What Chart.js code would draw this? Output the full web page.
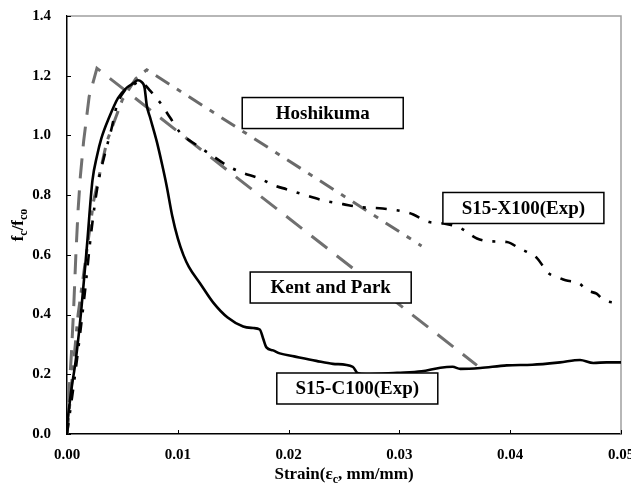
<!DOCTYPE html>
<html><head><meta charset="utf-8">
<script src="https://cdn.jsdelivr.net/npm/chart.js@4/dist/chart.umd.min.js"></script>
<style>html,body{margin:0;padding:0;background:#fff;}</style>
</head><body>
<canvas id="c" width="631" height="488"></canvas>
<script>
// ---- data ----
const c100Strain = [0, 0.0004, 0.0008, 0.0013, 0.0018, 0.0023, 0.0027, 0.0031, 0.0038, 0.0046, 0.0054, 0.0060, 0.0064, 0.0067, 0.0070, 0.0072, 0.0075, 0.0081, 0.0086, 0.0090, 0.0095, 0.0100, 0.0105, 0.0110, 0.0120, 0.0132, 0.0145, 0.0159, 0.0168, 0.0174, 0.0177, 0.0180, 0.0186, 0.0192, 0.0205, 0.0225, 0.0240, 0.0258, 0.0262, 0.0270, 0.0298, 0.0320, 0.0337, 0.0348, 0.0355, 0.0373, 0.0397, 0.0420, 0.0445, 0.0463, 0.0475, 0.0487, 0.0500];
const c100Stress = [0.03, 0.15, 0.25, 0.42, 0.63, 0.85, 0.93, 0.99, 1.06, 1.125, 1.16, 1.175, 1.185, 1.18, 1.16, 1.10, 1.06, 0.98, 0.90, 0.83, 0.73, 0.655, 0.60, 0.56, 0.505, 0.44, 0.39, 0.36, 0.355, 0.35, 0.32, 0.29, 0.28, 0.27, 0.26, 0.245, 0.235, 0.225, 0.205, 0.20, 0.205, 0.21, 0.222, 0.225, 0.218, 0.221, 0.23, 0.232, 0.24, 0.248, 0.238, 0.24, 0.24];

const x100Strain = [0, 0.0008, 0.0016, 0.0022, 0.0028, 0.0031, 0.0035, 0.0040, 0.0045, 0.0052, 0.0060, 0.0065, 0.0070, 0.0075, 0.0084, 0.0093, 0.0102, 0.0118, 0.0132, 0.0144, 0.0157, 0.0173, 0.0189, 0.0198, 0.0215, 0.0234, 0.0249, 0.0264, 0.0285, 0.0309, 0.0327, 0.0340, 0.0355, 0.0370, 0.0384, 0.0397, 0.0409, 0.0415, 0.0424, 0.0430, 0.0434, 0.0443, 0.0450, 0.0462, 0.0470, 0.0478, 0.0484, 0.0497, 0.0500];
const x100Stress = [0, 0.22, 0.47, 0.68, 0.84, 0.89, 0.95, 1.02, 1.10, 1.15, 1.17, 1.18, 1.17, 1.15, 1.11, 1.06, 1.01, 0.965, 0.93, 0.90, 0.877, 0.857, 0.83, 0.82, 0.80, 0.78, 0.77, 0.76, 0.755, 0.74, 0.71, 0.705, 0.69, 0.655, 0.645, 0.643, 0.62, 0.61, 0.59, 0.56, 0.54, 0.525, 0.515, 0.505, 0.48, 0.47, 0.45, 0.44, 0.44];

const hoshikumaStrain = [0, 0.0010, 0.0024, 0.0036, 0.0050, 0.0062, 0.0072, 0.0320];
const hoshikumaStress = [0, 0.40, 0.78, 0.98, 1.12, 1.19, 1.22, 0.63];

const kentParkStrain = [0, 0.0002, 0.0004, 0.0006, 0.0008, 0.0010, 0.0012, 0.0015, 0.0020, 0.0027, 0.0370];
const kentParkStress = [0, 0.15, 0.27, 0.42, 0.60, 0.75, 0.86, 0.98, 1.13, 1.225, 0.23];

const xTickValues = [0, 0.01, 0.02, 0.03, 0.04, 0.05];
const yTickValues = [0, 0.2, 0.4, 0.6, 0.8, 1.0, 1.2, 1.4];

const boxTexts = ['Hoshikuma', 'S15-X100(Exp)', 'Kent and Park', 'S15-C100(Exp)'];
const boxStrain = [0.02308, 0.04119, 0.0238, 0.0262];
const boxStress = [1.075, 0.757, 0.4906, 0.1524];

// ---- build ----
const toPts = (xs, ys) => xs.map((x, i) => ({x: x, y: ys[i]}));
const SERIF = '"Liberation Serif", "Times New Roman", serif';

function drawRich(ctx, segs, size, cx, cy) {
  let w = 0;
  segs.forEach(s => {
    ctx.font = 'bold ' + (s[1] ? Math.round(size * 0.72) : size) + 'px ' + SERIF;
    w += ctx.measureText(s[0]).width;
  });
  let x = cx - w / 2;
  segs.forEach(s => {
    ctx.font = 'bold ' + (s[1] ? Math.round(size * 0.72) : size) + 'px ' + SERIF;
    ctx.fillText(s[0], x, cy + (s[1] ? size * 0.3 : 0));
    x += ctx.measureText(s[0]).width;
  });
}

const decor = {
  id: 'decor',
  beforeDatasetsDraw(chart) {
    const ctx = chart.ctx, a = chart.chartArea;
    ctx.save();
    ctx.strokeStyle = '#a0a0a0';
    ctx.lineWidth = 1.5;
    ctx.beginPath();
    ctx.moveTo(a.left, a.top); ctx.lineTo(a.right, a.top); ctx.lineTo(a.right, a.bottom);
    ctx.stroke();
    ctx.strokeStyle = '#000';
    ctx.lineWidth = 1;
    const xs = chart.scales.x, ys = chart.scales.y;
    xTickValues.forEach(v => {
      const p = Math.round(xs.getPixelForValue(v)) + 0.5;
      ctx.beginPath(); ctx.moveTo(p, a.bottom); ctx.lineTo(p, a.bottom - 4); ctx.stroke();
    });
    yTickValues.forEach(v => {
      const p = Math.round(ys.getPixelForValue(v)) + 0.5;
      ctx.beginPath(); ctx.moveTo(a.left, p); ctx.lineTo(a.left + 4, p); ctx.stroke();
    });
    ctx.restore();
  },
  afterDraw(chart) {
    const ctx = chart.ctx, a = chart.chartArea;
    const xs = chart.scales.x, ys = chart.scales.y;
    ctx.save();
    ctx.textAlign = 'center';
    ctx.textBaseline = 'middle';
    boxTexts.forEach((t, i) => {
      const cx = xs.getPixelForValue(boxStrain[i]);
      const cy = ys.getPixelForValue(boxStress[i]);
      const w = 161, h = 31;
      ctx.fillStyle = '#fff';
      ctx.fillRect(cx - w / 2, cy - h / 2, w, h);
      ctx.strokeStyle = '#000';
      ctx.lineWidth = 1.5;
      ctx.strokeRect(cx - w / 2, cy - h / 2, w, h);
      ctx.fillStyle = '#000';
      ctx.font = 'bold 19px ' + SERIF;
      ctx.fillText(t, cx, cy + 1);
    });
    ctx.textAlign = 'left';
    ctx.textBaseline = 'middle';
    ctx.fillStyle = '#000';
    drawRich(ctx, [['Strain(\u03b5', false], ['c', true], [', mm/mm)', false]], 17, (a.left + a.right) / 2, 475);
    ctx.translate(19, (a.top + a.bottom) / 2);
    ctx.rotate(-Math.PI / 2);
    drawRich(ctx, [['f', false], ['c', true], ['/f', false], ['co', true]], 17, 0, 0);
    ctx.restore();
  }
};

const tickFont = {family: SERIF, size: 15, weight: 'bold'};

new Chart(document.getElementById('c'), {
  type: 'scatter',
  data: {
    datasets: [
      {label: 'S15-C100(Exp)', data: toPts(c100Strain, c100Stress), showLine: true, borderColor: '#000', borderWidth: 2.6, pointRadius: 0, cubicInterpolationMode: 'monotone'},
      {label: 'S15-X100(Exp)', data: toPts(x100Strain, x100Stress), showLine: true, borderColor: '#000', borderWidth: 2.6, borderDash: [11, 10, 3, 10], pointRadius: 0, cubicInterpolationMode: 'monotone'},
      {label: 'Hoshikuma', data: toPts(hoshikumaStrain, hoshikumaStress), showLine: true, borderColor: '#6a6a6a', borderWidth: 3, borderDash: [16, 9, 5, 9], pointRadius: 0, tension: 0},
      {label: 'Kent and Park', data: toPts(kentParkStrain, kentParkStress), showLine: true, borderColor: '#707070', borderWidth: 3, borderDash: [20, 12], pointRadius: 0, tension: 0}
    ]
  },
  options: {
    responsive: false,
    animation: false,
    devicePixelRatio: 1,
    layout: {padding: {top: 16, right: 10, left: 0, bottom: 0}},
    plugins: {legend: {display: false}, tooltip: {enabled: false}},
    scales: {
      x: {
        type: 'linear', min: 0, max: 0.05,
        afterBuildTicks: s => { s.ticks = xTickValues.map(v => ({value: v})); },
        ticks: {callback: v => v.toFixed(2), font: tickFont, color: '#000', padding: 12, maxRotation: 0},
        grid: {drawOnChartArea: false, drawTicks: false},
        border: {display: true, color: '#000', width: 1.5},
        afterFit: s => { s.height = 54; s.paddingLeft = 0; s.paddingRight = 0; }
      },
      y: {
        type: 'linear', min: 0, max: 1.4,
        afterBuildTicks: s => { s.ticks = yTickValues.map(v => ({value: v})); },
        ticks: {callback: v => v.toFixed(1), font: tickFont, color: '#000', padding: 16},
        grid: {drawOnChartArea: false, drawTicks: false},
        border: {display: true, color: '#000', width: 1.5},
        afterFit: s => { s.width = 67; s.paddingTop = 0; s.paddingBottom = 0; }
      }
    }
  },
  plugins: [decor]
});
</script>
</body></html>
